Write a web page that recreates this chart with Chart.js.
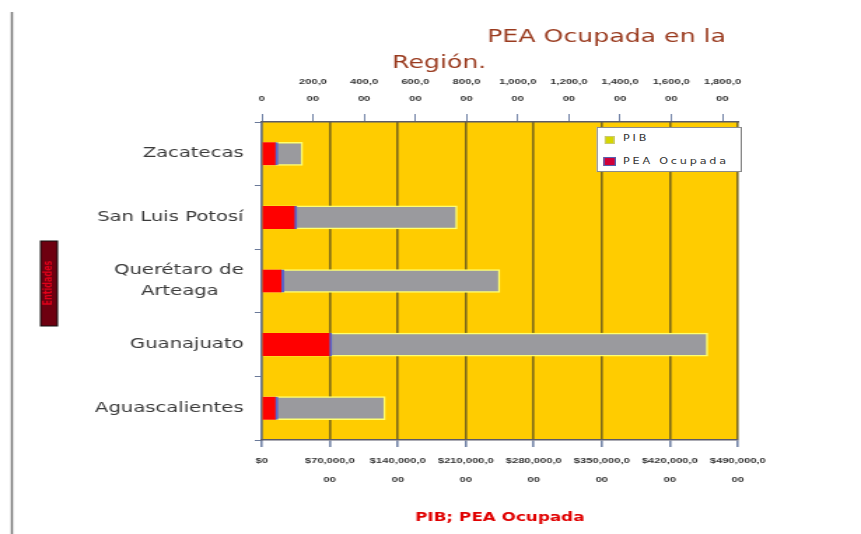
<!DOCTYPE html>
<html>
<head>
<meta charset="utf-8">
<script src="https://cdn.jsdelivr.net/npm/chart.js@4"></script>
<style>
  html, body { margin: 0; padding: 0; background: #fff; overflow: hidden; }
  /* the original picture is a stretched scan, so the whole chart is widened */
  #wrap { position: relative; width: 615px; height: 534px; transform: scaleX(1.4); transform-origin: 0 0; }
  #leyenda { position: absolute; left: 426px; top: 127px; width: 104px; height: 45px; box-sizing: border-box;
             background: #fff; border: 1px solid #8a8a8a; font: 8px "DejaVu Sans"; color: #333; letter-spacing: 2px; }
  .marca { position: absolute; }
  .texto { position: absolute; left: 18px; line-height: 10px; white-space: nowrap; }
</style>
</head>
<body>
<div id="wrap">
  <canvas id="grafica" width="615" height="534"></canvas>
  <div id="leyenda">
    <div class="marca" style="left:5px;top:8px;width:5px;height:6px;background:#d6d600;border:1px solid #c8c870;"></div>
    <div class="texto" style="top:6px;">PIB</div>
    <div class="marca" style="left:4px;top:29px;width:7px;height:7px;background:#d0003a;border:1px solid #5560b0;"></div>
    <div class="texto" style="top:29px;">PEA Ocupada</div>
  </div>
</div>
<script>
const estados = ['Zacatecas', 'San Luis Potosí', ['Querétaro de', 'Arteaga    '], 'Guanajuato', 'Aguascalientes'];
const pib = [42000000, 201000000, 245000000, 459000000, 127000000];
const peaOcupada = [62500, 137000, 86000, 273500, 62500];

// eje inferior (PIB) y eje superior (PEA Ocupada)
const pibTicks = [0, 70000000, 140000000, 210000000, 280000000, 350000000, 420000000, 490000000];
const peaTicks = [0, 200000, 400000, 600000, 800000, 1000000, 1200000, 1400000, 1600000, 1800000];
const peaMax = 1860000;

Chart.defaults.font.family = '"DejaVu Sans"';

const decoracion = {
  id: 'decoracion',
  beforeDraw(chart) {
    const {ctx, chartArea: a} = chart;
    ctx.save();
    ctx.fillStyle = '#FFCC00';
    ctx.fillRect(a.left, a.top, a.right - a.left, a.bottom - a.top);
    // linea de la hoja a la izquierda
    ctx.strokeStyle = '#7a7a7a';
    ctx.lineWidth = 1.5;
    ctx.beginPath();
    ctx.moveTo(8.5, 12);
    ctx.lineTo(8.5, 534);
    ctx.stroke();
    // caja roja del titulo vertical
    ctx.fillStyle = '#6e0010';
    ctx.fillRect(29, 241, 12, 85);
    ctx.strokeStyle = '#111';
    ctx.lineWidth = 1;
    ctx.strokeRect(29, 241, 12, 85);
    ctx.restore();
  },
  afterDraw(chart) {
    const ctx = chart.ctx;
    ctx.save();
    ctx.fillStyle = '#9a3b1f';
    ctx.font = '18px "DejaVu Sans"';
    ctx.textBaseline = 'middle';
    ctx.textAlign = 'left';
    ctx.fillText('PEA Ocupada en la', 348, 37);
    ctx.fillText('Región.', 280, 63);
    ctx.translate(35, 283);
    ctx.rotate(-Math.PI / 2);
    ctx.fillStyle = '#e0001a';
    ctx.font = 'bold 8px "DejaVu Sans"';
    ctx.textAlign = 'center';
    ctx.fillText('Entidades', 0, 0);
    ctx.restore();
  }
};

new Chart(document.getElementById('grafica'), {
  type: 'bar',
  data: {
    labels: estados,
    datasets: [
      {
        label: 'PEA Ocupada',
        data: peaOcupada,
        xAxisID: 'x2',
        backgroundColor: '#FF0000',
        borderColor: '#5a63c8',
        borderWidth: {left: 0, top: 0, bottom: 0, right: 2},
        borderSkipped: false,
        barThickness: 23,
        grouped: false
      },
      {
        label: 'PIB',
        data: pib,
        xAxisID: 'x',
        backgroundColor: '#9a9a9e',
        borderColor: '#ffff70',
        borderWidth: 1.5,
        borderSkipped: 'start',
        barThickness: 23,
        grouped: false
      }
    ]
  },
  options: {
    indexAxis: 'y',
    responsive: false,
    animation: false,
    layout: { padding: { left: 0, right: 88, top: 60, bottom: 0 } },
    plugins: {
      legend: { display: false },
      tooltip: { enabled: false }
    },
    scales: {
      y: {
        afterFit: (s) => { s.width = 187; },
        grid: { drawOnChartArea: false, offset: true, tickLength: 5, color: '#6a7a9a' },
        border: { color: '#6a7a9a', width: 1.5 },
        ticks: { color: '#3a3a3a', font: { size: 14, lineHeight: 1.45 }, padding: 8 }
      },
      x: {
        position: 'bottom',
        min: pibTicks[0],
        max: pibTicks[pibTicks.length - 1],
        afterFit: (s) => { s.height = 94; },
        afterBuildTicks: (s) => { s.ticks = pibTicks.map((v) => ({ value: v })); },
        grid: { color: '#7d6a1a', lineWidth: 1.6, tickColor: '#7485a8', tickLength: 7 },
        border: { color: '#5a5a6a', width: 1.5 },
        ticks: {
          autoSkip: false,
          color: '#333',
          padding: 4,
          maxRotation: 0,
          font: { family: '"Liberation Sans"', weight: 'bold', size: 8, lineHeight: 2.4 },
          callback: (v) => {
            if (v === 0) return '$0';
            const s = '$' + v.toLocaleString('en-US');
            return [s.slice(0, -2), s.slice(-2)];
          }
        },
        title: {
          display: true,
          text: 'PIB; PEA Ocupada',
          color: '#e00000',
          font: { size: 12, weight: 'bold' },
          padding: { top: 4, bottom: 9 }
        }
      },
      x2: {
        position: 'top',
        min: 0,
        max: peaMax,
        afterFit: (s) => { s.height = 62; },
        afterBuildTicks: (s) => { s.ticks = peaTicks.map((v) => ({ value: v })); },
        grid: { drawOnChartArea: false, tickLength: 8, color: '#7485a8' },
        border: { color: '#5a5a6a', width: 1.5 },
        ticks: {
          autoSkip: false,
          color: '#333',
          padding: 6,
          maxRotation: 0,
          font: { family: '"Liberation Sans"', weight: 'bold', size: 8, lineHeight: 2.2 },
          callback: (v) => {
            if (v === 0) return ['', '0'];
            const s = v.toLocaleString('en-US');
            return [s.slice(0, -2), s.slice(-2)];
          }
        }
      }
    }
  },
  plugins: [decoracion]
});
</script>
</body>
</html>
